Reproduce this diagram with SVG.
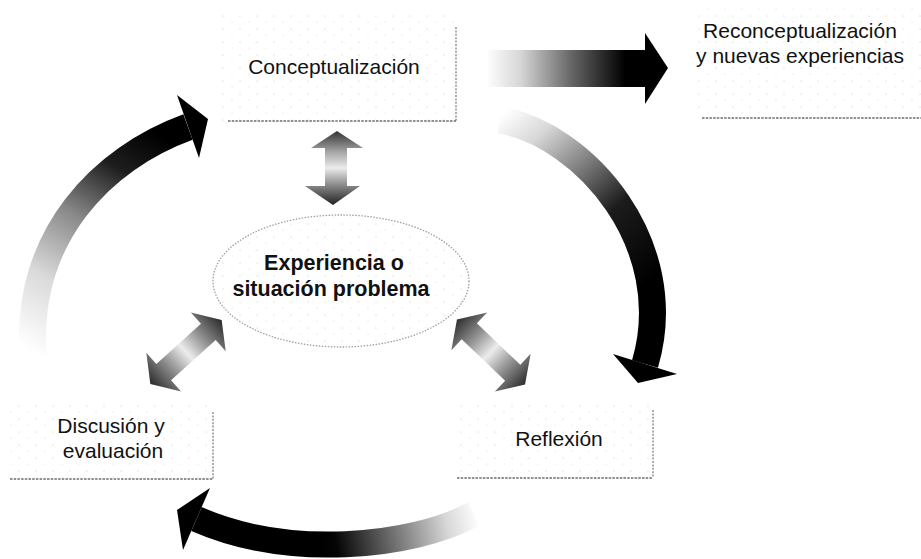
<svg xmlns="http://www.w3.org/2000/svg" width="921" height="559" viewBox="0 0 921 559">
  <style>
    .lbl { font-family: "Liberation Sans", Arial, Helvetica, sans-serif; font-size: 21px; fill: #111; text-anchor: middle; }
    .bold { font-weight: bold; font-size: 21.5px; }
    .boxfill { fill: url(#speck); stroke: none; }
    .edge { fill: none; stroke: #8a8a8a; stroke-width: 1.4; stroke-dasharray: 2 1.4; }
    .edgeB { fill: none; stroke: #6e6e6e; stroke-width: 1.6; stroke-dasharray: 2.5 1.2; }
    .shaft { fill: none; stroke-linecap: butt; }
  </style>
  <defs>
    <pattern id="speck" width="17" height="13" patternUnits="userSpaceOnUse">
      <circle cx="2" cy="3" r="0.55" fill="#c4c4c4"/>
      <circle cx="11" cy="9" r="0.5" fill="#d0d0d0"/>
    </pattern>
    <linearGradient id="gLeft" gradientUnits="userSpaceOnUse" x1="30" y1="350" x2="160" y2="135">
      <stop offset="0" stop-color="#ffffff"/>
      <stop offset="0.28" stop-color="#dadada"/>
      <stop offset="0.55" stop-color="#8a8a8a"/>
      <stop offset="0.8" stop-color="#1e1e1e"/>
      <stop offset="1" stop-color="#000"/>
    </linearGradient>
    <linearGradient id="gRight" gradientUnits="userSpaceOnUse" x1="498" y1="118" x2="645" y2="285">
      <stop offset="0" stop-color="#ffffff"/>
      <stop offset="0.18" stop-color="#d8d8d8"/>
      <stop offset="0.42" stop-color="#7a7a7a"/>
      <stop offset="0.65" stop-color="#1c1c1c"/>
      <stop offset="1" stop-color="#000"/>
    </linearGradient>
    <linearGradient id="gBottom" gradientUnits="userSpaceOnUse" x1="478" y1="515" x2="320" y2="545">
      <stop offset="0" stop-color="#ffffff"/>
      <stop offset="0.2" stop-color="#d8d8d8"/>
      <stop offset="0.55" stop-color="#6e6e6e"/>
      <stop offset="0.9" stop-color="#050505"/>
      <stop offset="1" stop-color="#000"/>
    </linearGradient>
    <linearGradient id="gStraight" gradientUnits="userSpaceOnUse" x1="486" y1="0" x2="625" y2="0">
      <stop offset="0" stop-color="#ffffff"/>
      <stop offset="0.25" stop-color="#d6d6d6"/>
      <stop offset="0.6" stop-color="#6a6a6a"/>
      <stop offset="1" stop-color="#000"/>
    </linearGradient>
    <linearGradient id="gDouble" gradientUnits="userSpaceOnUse" x1="-48" y1="0" x2="48" y2="0">
      <stop offset="0" stop-color="#2a2a2a"/>
      <stop offset="0.3" stop-color="#999"/>
      <stop offset="0.5" stop-color="#ececec"/>
      <stop offset="0.7" stop-color="#999"/>
      <stop offset="1" stop-color="#2a2a2a"/>
    </linearGradient>
    <linearGradient id="gVert" gradientUnits="userSpaceOnUse" x1="0" y1="131" x2="0" y2="205">
      <stop offset="0" stop-color="#333"/>
      <stop offset="0.28" stop-color="#a4a4a4"/>
      <stop offset="0.5" stop-color="#ececec"/>
      <stop offset="0.72" stop-color="#8e8e8e"/>
      <stop offset="1" stop-color="#222"/>
    </linearGradient>
  </defs>

  <rect width="921" height="559" fill="#fff"/>

  <!-- Nodes -->
  <g id="node-conceptualizacion">
    <rect class="boxfill" x="222" y="15" width="234" height="106"/>
    <path class="edge" d="M456 27 V121"/>
    <path class="edgeB" d="M228 121 H456"/>
    <text class="lbl" x="334" y="74">Conceptualización</text>
  </g>

  <g id="node-reconceptualizacion">
    <rect class="boxfill" x="692" y="8" width="229" height="110"/>
    <path class="edgeB" d="M702 118 H921"/>
    <text class="lbl" x="800" y="38">Reconceptualización</text>
    <text class="lbl" x="800" y="63">y nuevas experiencias</text>
  </g>

  <g id="node-experiencia">
    <ellipse cx="341" cy="281" rx="128" ry="66" fill="url(#speck)" stroke="#a0a0a0" stroke-width="1.3" stroke-dasharray="1.5 1.5"/>
    <text class="lbl bold" x="334" y="270">Experiencia o</text>
    <text class="lbl bold" x="331" y="296">situación problema</text>
  </g>

  <g id="node-discusion">
    <rect class="boxfill" x="6" y="404" width="207" height="75"/>
    <path class="edge" d="M213 412 V479"/>
    <path class="edgeB" d="M10 479 H213"/>
    <text class="lbl" x="111" y="433">Discusión y</text>
    <text class="lbl" x="113" y="458">evaluación</text>
  </g>

  <g id="node-reflexion">
    <rect class="boxfill" x="455" y="402" width="198" height="76"/>
    <path class="edge" d="M653 410 V478"/>
    <path class="edgeB" d="M457 478 H653"/>
    <text class="lbl" x="559" y="446">Reflexión</text>
  </g>

  <!-- Connectors -->
  <g id="connectors">
    <g id="arrow-straight">
      <rect x="488" y="50" width="158" height="37" fill="url(#gStraight)"/>
      <polygon points="645,33 668,68 645,104" fill="#000"/>
    </g>

    <g id="arrow-left">
      <path class="shaft" d="M33 356 C25 235 103 158 188 127" stroke="url(#gLeft)" stroke-width="27"/>
      <polygon points="177,95 208,119 199,158" fill="#000"/>
    </g>

    <g id="arrow-right">
      <path class="shaft" d="M500 120 C585 135 680 245 645 364" stroke="url(#gRight)" stroke-width="27"/>
      <polygon points="613,354 677,374 638,383" fill="#000"/>
    </g>

    <g id="arrow-bottom">
      <path class="shaft" d="M474 514 C410 548 288 559 196.5 519" stroke="url(#gBottom)" stroke-width="26"/>
      <polygon points="210,488 177,510 183,550" fill="#000"/>
    </g>

    <g id="arrow-vertical">
      <polygon points="337,131 363,148 347,148 347,186 360,186 333,205 305,186 325,186 325,148 311,148" fill="url(#gVert)"/>
    </g>

    <g id="arrow-diag-left" transform="translate(186,352) rotate(-42)">
      <polygon points="48,0 30,-26 30,-11 -30,-11 -30,-26 -48,0 -30,26 -30,11 30,11 30,26" fill="url(#gDouble)"/>
    </g>

    <g id="arrow-diag-right" transform="translate(491,352) rotate(43.6)">
      <polygon points="47,0 30,-26 30,-11 -30,-11 -30,-26 -47,0 -30,26 -30,11 30,11 30,26" fill="url(#gDouble)"/>
    </g>
  </g>
</svg>
